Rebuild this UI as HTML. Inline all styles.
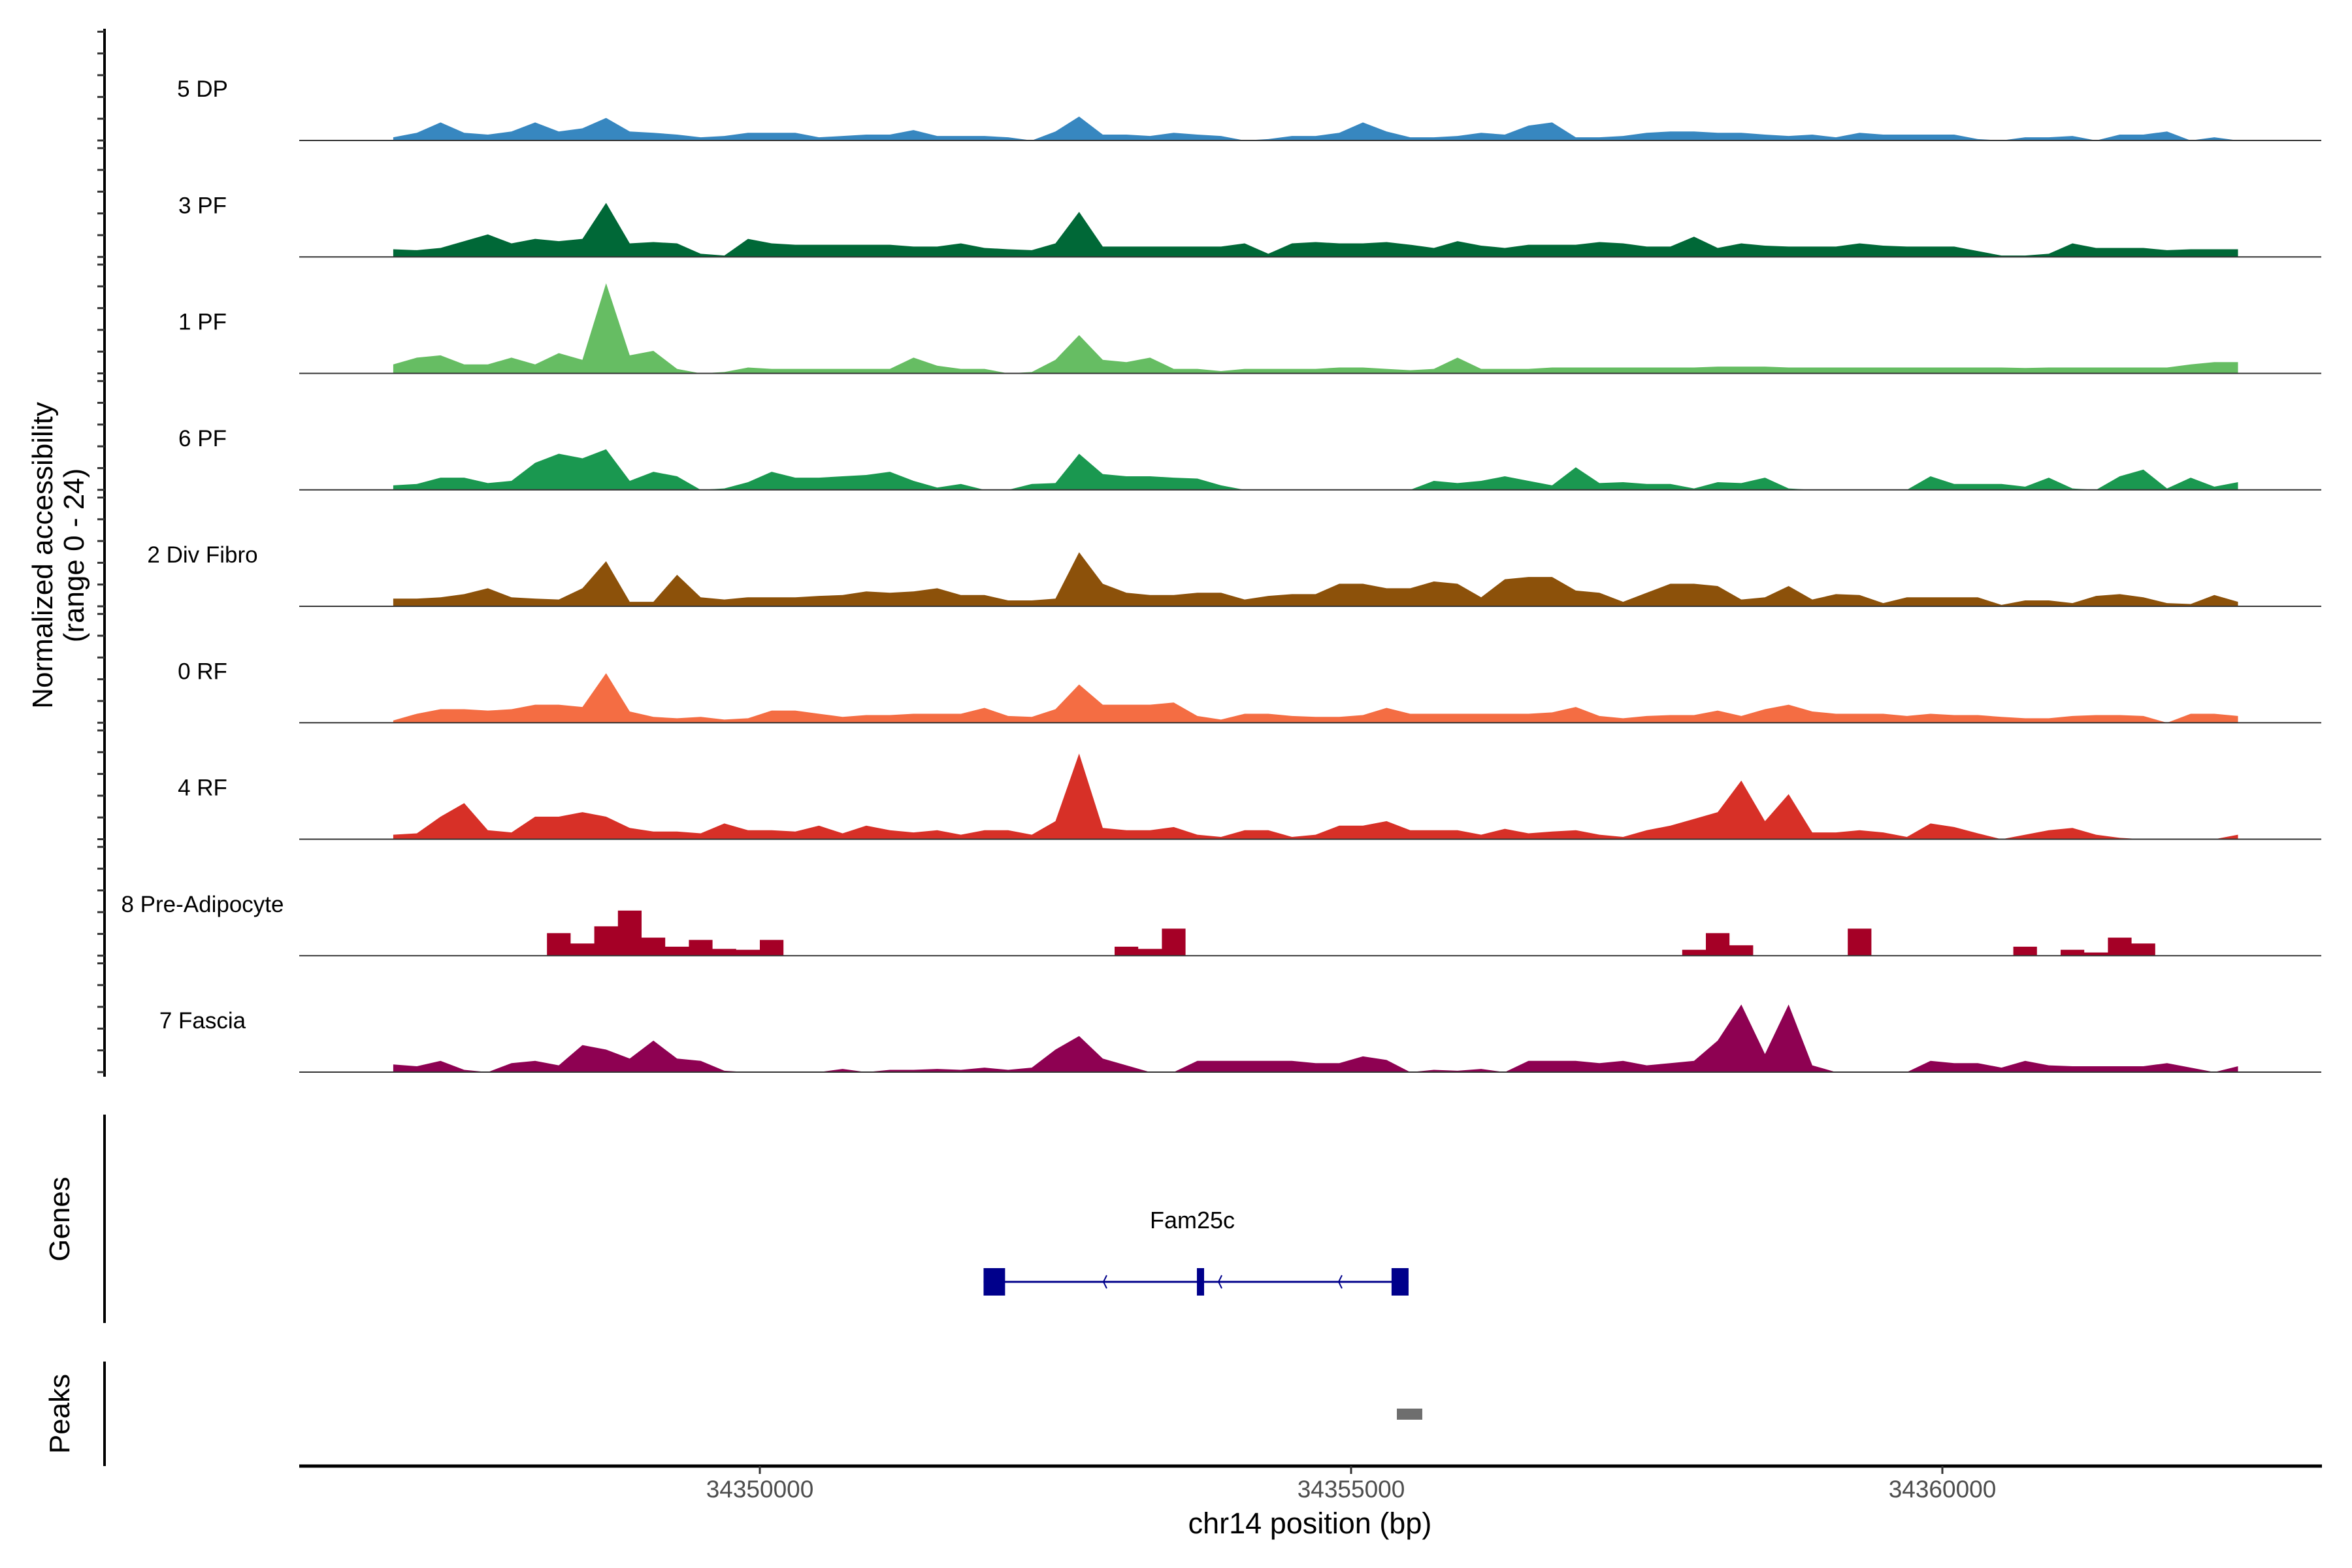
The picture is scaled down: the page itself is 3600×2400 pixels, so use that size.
<!DOCTYPE html>
<html><head><meta charset="utf-8"><style>
html,body{margin:0;padding:0;background:#fff;}
svg{display:block;font-family:"Liberation Sans",Arial,sans-serif;}
</style></head><body>
<svg id="chart" width="3600" height="2400" viewBox="0 0 3600 2400" xmlns="http://www.w3.org/2000/svg">
<rect x="0" y="0" width="3600" height="2400" fill="#fff"/>
<g id="tracks"></g>
<g id="yaxis"><line x1="160" y1="44" x2="160" y2="1648" stroke="#000" stroke-width="4"/></g>
<text transform="translate(80,850) rotate(-90)" text-anchor="middle" font-size="44" fill="#000">Normalized accessibility</text>
<text transform="translate(128,850) rotate(-90)" text-anchor="middle" font-size="44" fill="#000">(range 0 - 24)</text>
<g>
<line x1="160" y1="1706" x2="160" y2="2025" stroke="#000" stroke-width="4"/>
<text transform="translate(106,1866) rotate(-90)" text-anchor="middle" font-size="44">Genes</text>
<text x="1825" y="1880" text-anchor="middle" font-size="36">Fam25c</text>
<g id="gene"></g>
</g>
<g>
<line x1="160" y1="2084" x2="160" y2="2244" stroke="#000" stroke-width="4"/>
<text transform="translate(106,2164) rotate(-90)" text-anchor="middle" font-size="44">Peaks</text>
<g id="peaks"></g>
</g>
<g id="xaxis"><line x1="458" y1="2244" x2="3554" y2="2244" stroke="#000" stroke-width="5"/></g>
<text x="2005" y="2347" text-anchor="middle" font-size="45">chr14 position (bp)</text>
</svg>
<script>
const binStart = 34346800;
const binSize = 200;
const trackNames = ["5 DP","3 PF","1 PF","6 PF","2 Div Fibro","0 RF","4 RF","8 Pre-Adipocyte","7 Fascia"];
const trackColors = ["#3787c0","#006837","#66bd63","#1a9850","#8c510a","#f46d43","#d73027","#a50026","#8e0152"];
const dp5 = [0.7,1.7,4,1.7,1.3,2,4,2,2.7,5,2,1.7,1.3,0.7,1,1.7,1.7,1.7,0.7,1,1.3,1.3,2.3,1,1,1,0.7,0,2,5.3,1.3,1.3,1,1.7,1.3,1,0,0.3,1,1,1.7,4,2,0.7,0.7,1,1.7,1.3,3.3,4,0.7,0.7,1,1.7,2,2,1.7,1.7,1.3,1,1.3,0.7,1.7,1.3,1.3,1.3,1.3,0.3,0,0.7,0.7,1,0,1.3,1.3,2,0,0.7,0];
const pf3 = [1.7,1.5,2,3.5,5,3,4,3.5,4,12,3,3.3,3,0.7,0.3,4,3,2.7,2.7,2.7,2.7,2.7,2.3,2.3,3,2,1.7,1.5,3,10,2.3,2.3,2.3,2.3,2.3,2.3,3,0.7,3,3.3,3,3,3.3,2.7,2,3.5,2.5,2,2.7,2.7,2.7,3.3,3,2.3,2.3,4.5,2,3,2.5,2.3,2.3,2.3,3,2.5,2.3,2.3,2.3,1.3,0.3,0.3,0.7,3,2,2,2,1.5,1.7,1.7,1.7];
const pf1 = [2,3.5,4,2,2,3.5,2,4.5,3,20,4,5,1,0,0.3,1.3,1,1,1,1,1,1,3.5,1.7,1,1,0,0.3,3,8.5,3,2.5,3.5,1,1,0.5,1,1,1,1,1.3,1.3,1,0.7,1,3.5,1,1,1,1.3,1.3,1.3,1.3,1.3,1.3,1.3,1.5,1.5,1.5,1.3,1.3,1.3,1.3,1.3,1.3,1.3,1.3,1.3,1.3,1.2,1.3,1.3,1.3,1.3,1.3,1.3,2,2.5,2.5];
const pf6 = [1,1.3,2.7,2.7,1.5,2,6,8,7,9,2,4,3,0,0.3,1.7,4,2.7,2.7,3,3.3,4,2,0.5,1.3,0,0,1.3,1.5,8,3.5,3,3,2.7,2.5,1,0,0,0,0,0,0,0,0,2,1.5,2,3,2,1,5,1.5,1.7,1.3,1.3,0.3,1.7,1.5,2.7,0.3,0,0,0,0,0,3,1.3,1.3,1.3,0.7,2.7,0.3,0,3,4.5,0.3,2.7,0.7,1.7];
const divFibro2 = [1.7,1.7,2,2.7,4,2,1.7,1.5,4,10,1,1,7,2,1.5,2,2,2,2.3,2.5,3.3,3,3.3,4,2.5,2.5,1.3,1.3,1.7,12,5,3,2.5,2.5,3,3,1.5,2.3,2.7,2.7,5,5,4,4,5.5,5,2,6,6.5,6.5,3.5,3,1,3,5,5,4.5,1.5,2,4.5,1.5,2.7,2.5,0.7,2,2,2,2,0.3,1.3,1.3,0.7,2.3,2.7,2,0.7,0.5,2.5,1];
const rf0 = [0.5,2,3,3,2.7,3,4,4,3.5,11,2.5,1.3,1,1.3,0.7,1,2.7,2.7,2,1.3,1.7,1.7,2,2,2,3.3,1.5,1.3,3,8.5,4,4,4,4.5,1.5,0.7,2,2,1.5,1.3,1.3,1.7,3.3,2,2,2,2,2,2,2.3,3.5,1.5,1,1.5,1.7,1.7,2.7,1.5,3,4,2.5,2,2,2,1.5,2,1.7,1.7,1.3,1,1,1.5,1.7,1.7,1.5,0,2,2,1.5];
const rf4 = [1,1.3,5,8,2,1.5,5,5,6,5,2.5,1.7,1.7,1.3,3.5,2,2,1.7,3,1.3,3,2,1.5,2,1,2,2,1,4,19,2.5,2,2,2.7,1,0.5,2,2,0.5,1,3,3,4,2,2,2,1,2.3,1.3,1.7,2,1,0.5,2,3,4.5,6,13,4,10,1.5,1.5,2,1.5,0.5,3.5,2.7,1.3,0,1,2,2.5,1,0.3,0,0,0,0,1];
const preAdipocyte8 = [0,0,0,0,0,0,0,5,2.7,6.5,10,4,2,3.5,1.5,1.3,3.5,0,0,0,0,0,0,0,0,0,0,0,0,0,0,2,1.5,6,0,0,0,0,0,0,0,0,0,0,0,0,0,0,0,0,0,0,0,0,0,1.3,5,2.3,0,0,0,0,6,0,0,0,0,0,0,2,0,1.3,0.7,4,2.7,0,0,0,0];
const fascia7 = [1.7,1.3,2.5,0.5,0,2,2.5,1.5,6,5,3,7,3,2.5,0.3,0,0,0,0,0.7,0,0.5,0.5,0.7,0.5,1,0.5,1,5,8,3,1.5,0,0,2.5,2.5,2.5,2.5,2.5,2,2,3.5,2.7,0,0.5,0.3,0.7,0,2.5,2.5,2.5,2,2.5,1.5,2,2.5,7,15,4,15,1.5,0,0,0,0,2.5,2,2,1,2.5,1.5,1.3,1.3,1.3,1.3,2,1,0,1.3];
const trackValues = [dp5,pf3,pf1,pf6,divFibro2,rf0,rf4,preAdipocyte8,fascia7];
const xTicks = [34350000,34355000,34360000];
const xTickLabels = ["34350000","34355000","34360000"];
const geneStart = 34351892, geneEnd = 34355486;
const exons = [[34351892,34352074],[34353696,34353757],[34355342,34355486]];
const intronArrows = [34352917,34353890,34354906];
const peakRegions = [[34355387,34355602]];

const NS = "http://www.w3.org/2000/svg";
const X0 = 1163, PXBP = 905/5000;
function xs(bp){ return X0 + (bp - 34350000) * PXBP; }
const B0 = 215, BSTEP = 178.25, YU = 6.9;
function ys(i, v){ return B0 + BSTEP*i - v*YU; }
function mk(tag, attrs, parent){ const e = document.createElementNS(NS, tag); for (const k in attrs) e.setAttribute(k, attrs[k]); parent.appendChild(e); return e; }

const tracks = document.getElementById('tracks');
const yaxis = document.getElementById('yaxis');
trackValues.forEach((vals, i) => {
  const base = ys(i, 0);
  let d;
  if (i === 7) {
    d = `M${xs(binStart)},${base}`;
    vals.forEach((v, j) => {
      const x1 = xs(binStart + j*binSize), x2 = xs(binStart + (j+1)*binSize);
      d += ` L${x1},${ys(i,v)} L${x2},${ys(i,v)}`;
    });
    d += ` L${xs(binStart + vals.length*binSize)},${base} Z`;
  } else {
    d = `M${xs(binStart + binSize/2)},${base}`;
    vals.forEach((v, j) => { d += ` L${xs(binStart + j*binSize + binSize/2)},${ys(i,v)}`; });
    d += ` L${xs(binStart + (vals.length-1)*binSize + binSize/2)},${base} Z`;
  }
  const p = mk('path', {d: d, fill: trackColors[i], stroke: 'none'}, tracks);
  
  
  const bl = mk('line', {x1: 458, y1: base, x2: 3553, y2: base, stroke: '#333', 'stroke-width': 2}, tracks);
  
  
  const t = mk('text', {x: 310, y: base - 67, 'text-anchor': 'middle', 'font-size': 35, fill: '#000'}, tracks);
  t.textContent = trackNames[i];
  
  
  for (let k = 0; k <= 5; k++) {
    const y = base - k*33.3;
    const tk = mk('line', {x1: 149, y1: y, x2: 160, y2: y, stroke: '#333', 'stroke-width': 3}, yaxis);
    
    
  }
});

const xaxis = document.getElementById('xaxis');
xTicks.forEach((bp, i) => {
  const x = xs(bp);
  const tk = mk('line', {x1: x, y1: 2244, x2: x, y2: 2256, stroke: '#333', 'stroke-width': 3}, xaxis);
  
  
  const tl = mk('text', {x: x, y: 2292, 'text-anchor': 'middle', 'font-size': 37, fill: '#4d4d4d'}, xaxis);
  tl.textContent = xTickLabels[i];
  
  
});

const gene = document.getElementById('gene');
const gy = 1962;
const gl = mk('line', {x1: xs(geneStart), y1: gy, x2: xs(geneEnd), y2: gy, stroke: '#00008b', 'stroke-width': 3}, gene);


exons.forEach(e => {
  const r = mk('rect', {x: xs(e[0]), y: gy - 21, width: xs(e[1]) - xs(e[0]), height: 42, fill: '#00008b'}, gene);
  
  
});
intronArrows.forEach(bp => {
  const x = xs(bp);
  const a = mk('path', {d: `M${x+3},${gy-10} L${x-2},${gy} L${x+3},${gy+10}`, fill: 'none', stroke: '#00008b', 'stroke-width': 2}, gene);
  
  
});

const peaks = document.getElementById('peaks');
peakRegions.forEach(pk => {
  const r = mk('rect', {x: xs(pk[0]), y: 2156, width: xs(pk[1]) - xs(pk[0]), height: 17, fill: '#6e6e6e'}, peaks);
  
  
});
</script>
</body></html>
